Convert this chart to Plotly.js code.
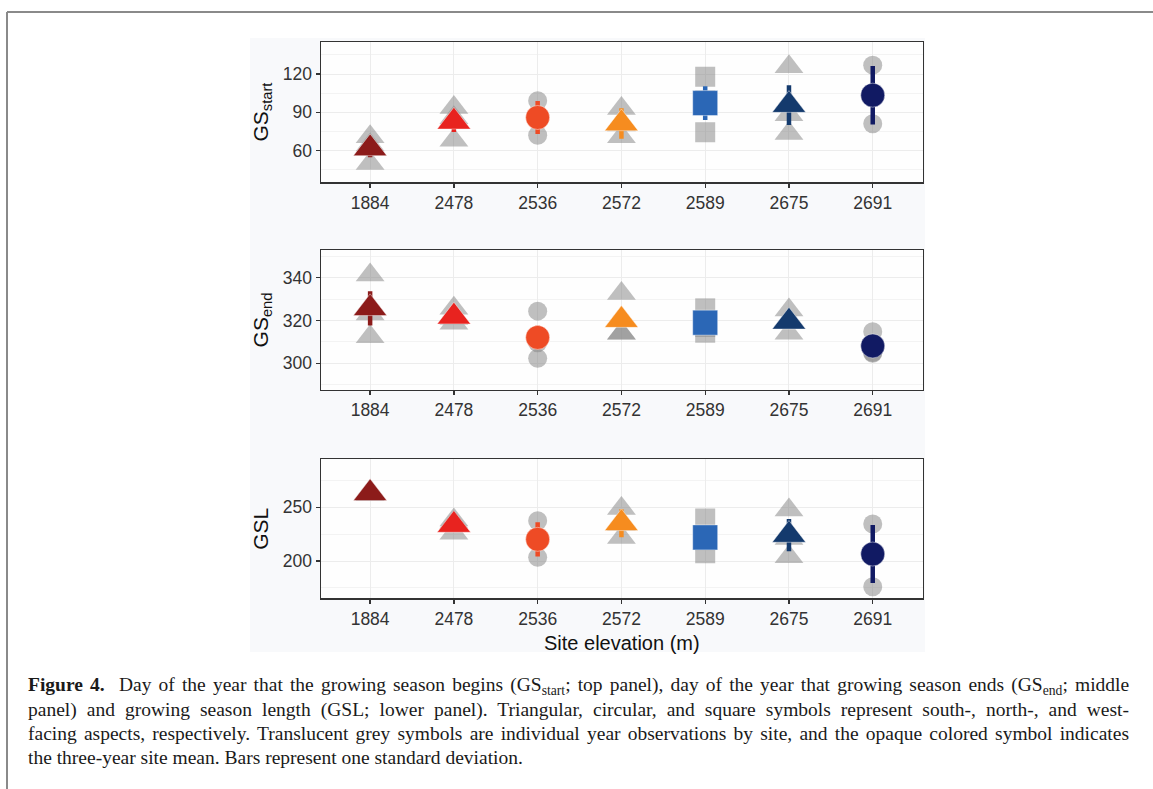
<!DOCTYPE html>
<html>
<head>
<meta charset="utf-8">
<script src="https://cdn.plot.ly/plotly-3.0.1.min.js"></script>
<style>
html,body{margin:0;padding:0;background:#ffffff;}
#chart{width:1153px;height:789px;}
</style>
</head>
<body>
<div id="chart"></div>
<script>
// ---- data ----
const sites = ['1884','2478','2536','2572','2589','2675','2691'];
const aspectSymbols = ['triangle-up','triangle-up','circle','triangle-up','square','triangle-up','circle'];
const siteColors = ['#8c1b1a','#e8231f','#ee4b25','#f68c1f','#2b67b6','#143a6d','#111a63'];

// GS start (day of year): three yearly observations per site, site mean, SD
const gsStartObs = [[70.7,64.3,49.8],[93.8,85.6,68.1],[99.0,86.5,72.0],[93.0,80.0,70.7],[117.9,99.4,74.3],[125.7,88.0,73.3],[127.0,102.0,81.0]];
const gsStartMean = [61.6,82.5,85.9,81.2,97.2,95.6,103.4];
const gsStartSD = [7.0,8.0,12.9,12.0,13.2,15.7,23.0];

// GS end (day of year)
const gsEndObs = [[341.3,323.0,312.4],[325.7,321.0,318.7],[324.4,309.6,302.3],[332.7,314.0,314.0],[325.7,317.0,314.3],[324.9,319.4,314.0],[314.8,305.0,304.7]];
const gsEndMean = [325.7,321.8,312.1,320.2,319.0,319.4,308.1];
const gsEndSD = [8.0,3.0,5.5,3.0,4.0,2.5,3.0];

// GSL (days)
const gslObs = [[262.0,263.0,262.0],[238.2,236.0,225.8],[237.5,220.0,203.4],[249.0,234.0,222.0],[239.7,219.0,207.2],[247.5,221.0,204.0],[234.5,209.0,176.0]];
const gslMean = [263.0,233.5,220.2,235.1,222.0,224.2,206.5];
const gslSD = [1.0,5.0,16.0,13.0,11.0,15.0,27.0];

const yTitles = ['GS<sub>start</sub>','GS<sub>end</sub>','GSL'];
const yRanges = [[35,145.4],[287.5,353],[165.3,294.7]];
const yTicks = [[60,90,120],[300,320,340],[200,250]];
const yMinor = [15,10,25];
const xTitle = 'Site elevation (m)';

// ---- geometry (pixels) ----
const W = 1153, H = 789;
const plotX = [320.7, 923];
const panelY = [[41.7,182.3],[250,390],[459.3,598.3]];

const greySize = {'triangle-up':25,'circle':19,'square':20};
const meanSize = {'triangle-up':29,'circle':24,'square':25};

const panels = [
  {obs:gsStartObs, mean:gsStartMean, sd:gsStartSD},
  {obs:gsEndObs, mean:gsEndMean, sd:gsEndSD},
  {obs:gslObs, mean:gslMean, sd:gslSD}
];

const tickFont = {size:17.5, color:'#333333', family:'Liberation Sans, Arial, sans-serif'};
const traces = [];
const layout = {
  width: W, height: H,
  margin: {l:0,r:0,t:0,b:0},
  paper_bgcolor: '#ffffff',
  plot_bgcolor: '#fefefe',
  showlegend: false,
  font: {family:'Liberation Sans, Arial, sans-serif', color:'#222'},
  shapes: [
    {type:'rect', xref:'paper', yref:'paper', x0:250/W, x1:925/W, y0:1-652/H, y1:1-38/H,
     fillcolor:'#f8f9fb', line:{width:0}, layer:'below'},
    {type:'line', xref:'paper', yref:'paper', x0:7/W, x1:1, y0:1-12/H, y1:1-12/H, line:{color:'#8a8a8a', width:2}},
    {type:'line', xref:'paper', yref:'paper', x0:7/W, x1:7/W, y0:0, y1:1-12/H, line:{color:'#8a8a8a', width:2}}
  ],
  annotations: []
};

panels.forEach((p, k) => {
  const xa = k === 0 ? 'x' : 'x' + (k+1);
  const ya = k === 0 ? 'y' : 'y' + (k+1);
  // white panel interior over the tinted figure region
  layout.shapes.push({type:'rect', xref:xa + ' domain', yref:ya + ' domain', x0:0, x1:1, y0:0, y1:1,
    fillcolor:'#fefefe', line:{width:0}, layer:'below'});
  // grey yearly observations
  const gx = [], gy = [], gs = [], gz = [];
  sites.forEach((s, i) => {
    p.obs[i].forEach(v => {
      gx.push(s); gy.push(v); gs.push(aspectSymbols[i]); gz.push(greySize[aspectSymbols[i]]);
    });
  });
  traces.push({
    type:'scatter', mode:'markers', x:gx, y:gy, xaxis:xa, yaxis:ya,
    marker:{symbol:gs, size:gz, color:'rgba(135,135,135,0.76)', line:{width:0}},
    hoverinfo:'x+y'
  });
  // site means with SD bars
  sites.forEach((s, i) => {
    traces.push({
      type:'scatter', mode:'markers', x:[s], y:[p.mean[i]], xaxis:xa, yaxis:ya,
      error_y:{type:'data', array:[p.sd[i]], visible:true, color:siteColors[i], thickness:4.5, width:0},
      marker:{symbol:aspectSymbols[i], size:meanSize[aspectSymbols[i]], color:siteColors[i],
              line:{width:0.8, color:'rgba(255,255,255,0.55)'}},
      hoverinfo:'x+y'
    });
  });

  const xkey = k === 0 ? 'xaxis' : 'xaxis' + (k+1);
  const ykey = k === 0 ? 'yaxis' : 'yaxis' + (k+1);
  layout[xkey] = {
    domain:[plotX[0]/W, plotX[1]/W], anchor:ya,
    type:'category', categoryorder:'array', categoryarray:sites,
    range:[-0.59, 6.6],
    showline:true, mirror:true, linecolor:'#333333', linewidth:1.2,
    ticks:'outside', ticklen:4, tickwidth:1.3, tickcolor:'#333333',
    showgrid:true, gridcolor:'#ececec', gridwidth:1, zeroline:false,
    tickfont:tickFont,
    fixedrange:true
  };
  if (k === 2) {
    layout[xkey].title = {text:xTitle, font:{size:20, color:'#111'}, standoff:8};
  }
  layout[ykey] = {
    domain:[1-panelY[k][1]/H, 1-panelY[k][0]/H], anchor:xa,
    range:yRanges[k], tickvals:yTicks[k], ticktext:yTicks[k].map(String),
    showline:true, mirror:true, linecolor:'#333333', linewidth:1.2,
    ticks:'outside', ticklen:4, tickwidth:1.3, tickcolor:'#333333',
    showgrid:true, gridcolor:'#ececec', gridwidth:1, zeroline:false,
    minor:{dtick:yMinor[k], tick0:0, showgrid:true, gridcolor:'#f3f3f3', ticks:''},
    tickfont:tickFont,
    title:{text:yTitles[k], font:{size:21, color:'#111'}, standoff:8},
    fixedrange:true
  };
});

// caption
const captionLines = [
  '<b>Figure 4.</b>  Day of the year that the growing season begins (GS<sub>start</sub>; top panel), day of the year that growing season ends (GS<sub>end</sub>; middle',
  'panel) and growing season length (GSL; lower panel). Triangular, circular, and square symbols represent south-, north-, and west-',
  'facing aspects, respectively. Translucent grey symbols are individual year observations by site, and the opaque colored symbol indicates',
  'the three-year site mean. Bars represent one standard deviation.'
];
const captionY = [686, 710, 733, 757];
captionLines.forEach((t, i) => {
  layout.annotations.push({
    xref:'paper', yref:'paper', x:26/W, y:1-captionY[i]/H, xanchor:'left', yanchor:'middle',
    text:t, showarrow:false, align:'left',
    font:{family:'Liberation Serif, Times New Roman, serif', size:19.5, color:'#1a1a1a'}
  });
});

Plotly.newPlot('chart', traces, layout, {displayModeBar:false, staticPlot:true}).then(gd => {
  // justify the first three caption lines to the right text edge, as in a printed caption
  const target = 1127 - 26;
  const texts = gd.querySelectorAll('.annotation-text');
  texts.forEach((el, i) => {
    if (i > 2) return;
    const w = el.getBBox().width;
    const spaces = (el.textContent.match(/ /g) || []).length;
    if (w < target && spaces > 0) {
      el.style.wordSpacing = ((target - w) / spaces).toFixed(2) + 'px';
    }
  });
});
</script>
</body>
</html>
